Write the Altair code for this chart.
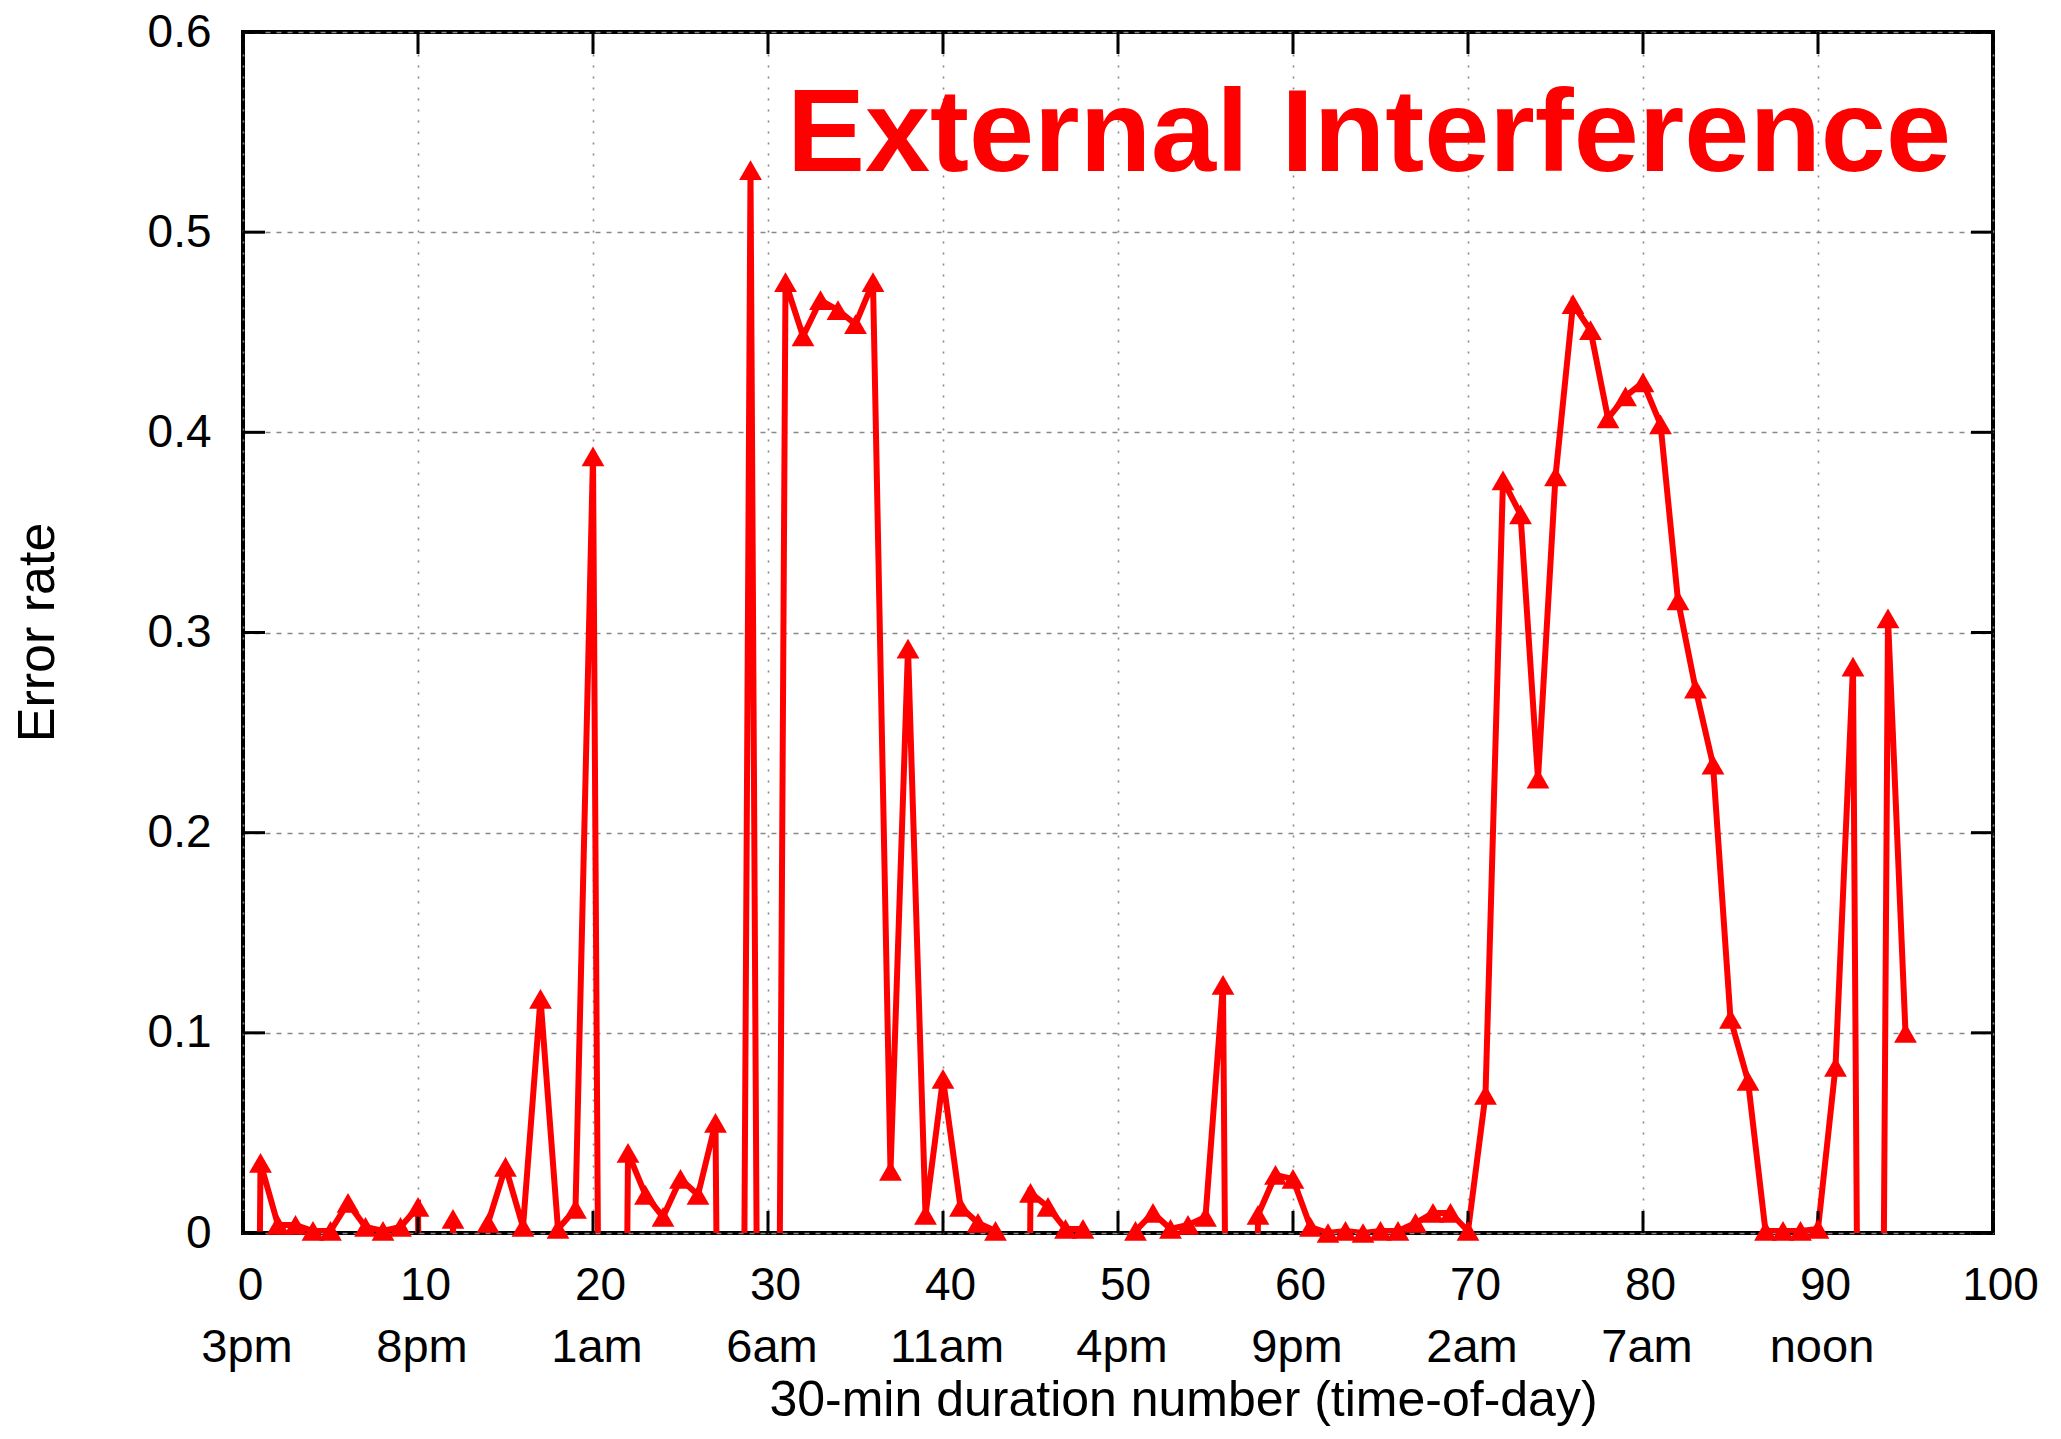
import altair as alt
import pandas as pd

# ---- data (slot number, error rate) ----
# -1 marks slots with no measurement (drawn off-scale below 0 and clipped, as in the original)
slots = list(range(0, 96))
error_rate = [
    -1, 0.035, 0.004, 0.004, 0.001, 0.001, 0.015, 0.003, 0.001, 0.003,
    0.013, -1, 0.007, -1, 0.005, 0.033, 0.003, 0.117, 0.002, 0.012,
    0.388, -1, 0.040, 0.019, 0.008, 0.027, 0.019, 0.055, -1, 0.531,
    -1, 0.475, 0.448, 0.466, 0.461, 0.454, 0.475, 0.031, 0.292, 0.009,
    0.077, 0.013, 0.005, 0.001, -1, 0.020, 0.013, 0.002, 0.002, -1,
    -1, 0.001, 0.010, 0.002, 0.004, 0.008, 0.124, -1, 0.009, 0.029,
    0.027, 0.003, 0.000, 0.001, 0.000, 0.001, 0.001, 0.005, 0.010, 0.010,
    0.001, 0.069, 0.376, 0.359, 0.227, 0.378, 0.464, 0.451, 0.407, 0.418,
    0.425, 0.404, 0.316, 0.272, 0.234, 0.107, 0.076, 0.001, 0.001, 0.001,
    0.002, 0.083, 0.283, -1, 0.307, 0.100,
]

ytick_values = [0, 0.1, 0.2, 0.3, 0.4, 0.5, 0.6]
xtick_values = [0, 10, 20, 30, 40, 50, 60, 70, 80, 90, 100]
time_ticks = [0, 10, 20, 30, 40, 50, 60, 70, 80, 90]
time_labels = ["3pm", "8pm", "1am", "6am", "11am", "4pm", "9pm", "2am", "7am", "noon"]
annotation = "External Interference"
x_title = "30-min duration number (time-of-day)"
y_title = "Error rate"

W, H = 1750, 1201
FONT = "Liberation Sans"
RED = "#ff0000"

df = pd.DataFrame({"slot": slots, "rate": error_rate})
xscale = alt.Scale(domain=[0, 100], nice=False, zero=False)
yscale = alt.Scale(domain=[0, 0.6], nice=False, zero=False)

x_axis = alt.Axis(
    values=xtick_values, format="d", labelFontSize=46, labelPadding=30, labelOffset=7,
    labelFlush=False, labelOverlap=False, ticks=False, tickSize=0, domain=False,
    grid=True, gridDash=[2, 9], gridColor="#888888", gridWidth=1.6, gridOpacity=1,
    title=x_title, titleFontSize=50, titleFontWeight="normal", titleX=940, titleY=182,
    titleBaseline="alphabetic", titleAlign="center",
)
y_axis = alt.Axis(
    values=ytick_values, format=".1~f", labelFontSize=46, labelPadding=32,
    labelBaseline="middle", labelFlush=False, labelOverlap=False, ticks=False, tickSize=0,
    domain=False, grid=True, gridDash=[5, 6], gridColor="#888888", gridWidth=1.6,
    gridOpacity=1, title=y_title, titleFontSize=52, titleFontWeight="normal",
    titleX=-190, titleY=600, titleAngle=270, titleBaseline="alphabetic", titleAlign="center",
)

line = alt.Chart(df).mark_line(color=RED, strokeWidth=6, clip=True).encode(
    x=alt.X("slot:Q", scale=xscale, axis=x_axis),
    y=alt.Y("rate:Q", scale=yscale, axis=y_axis),
)

points = alt.Chart(df).transform_filter("datum.rate >= 0").mark_point(
    shape="triangle-up", filled=True, size=520, color=RED, opacity=1
).encode(
    x=alt.X("slot:Q", scale=xscale),
    y=alt.Y("rate:Q", scale=yscale),
)

ydf = pd.DataFrame({"rate": ytick_values})
xdf = pd.DataFrame({"slot": xtick_values})
tick_style = dict(color="black", strokeWidth=3)
left_ticks = alt.Chart(ydf).mark_rule(**tick_style).encode(
    y=alt.Y("rate:Q", scale=yscale), x=alt.value(0), x2=alt.value(22))
right_ticks = alt.Chart(ydf).mark_rule(**tick_style).encode(
    y=alt.Y("rate:Q", scale=yscale), x=alt.value(W - 22), x2=alt.value(W))
bottom_ticks = alt.Chart(xdf).mark_rule(**tick_style).encode(
    x=alt.X("slot:Q", scale=xscale), y=alt.value(H - 22), y2=alt.value(H))
top_ticks = alt.Chart(xdf).mark_rule(**tick_style).encode(
    x=alt.X("slot:Q", scale=xscale), y=alt.value(0), y2=alt.value(22))

tdf = pd.DataFrame({"slot": time_ticks, "label": time_labels})
times = alt.Chart(tdf).mark_text(
    font=FONT, fontSize=47, baseline="alphabetic", align="center", dx=4, color="black"
).encode(
    x=alt.X("slot:Q", scale=xscale),
    y=alt.value(1330),
    text="label:N",
)

title = alt.Chart(pd.DataFrame({"t": [annotation]})).mark_text(
    font=FONT, fontWeight="bold", fontSize=117, color=RED, align="right", baseline="alphabetic"
).encode(x=alt.value(1708), y=alt.value(139), text="t:N")

chart = alt.layer(
    line, left_ticks, right_ticks, bottom_ticks, top_ticks, points, times, title
).properties(
    width=W, height=H,
    background="white",
    autosize=alt.AutoSizeParams(type="none"),
    padding={"left": 235, "top": 24, "right": 50, "bottom": 194},
).configure_view(
    stroke="black", strokeWidth=4
).configure_axis(
    labelFont=FONT, titleFont=FONT, labelColor="black", titleColor="black"
)

chart.save("out.html", embed_options={"renderer": "svg", "actions": False})
